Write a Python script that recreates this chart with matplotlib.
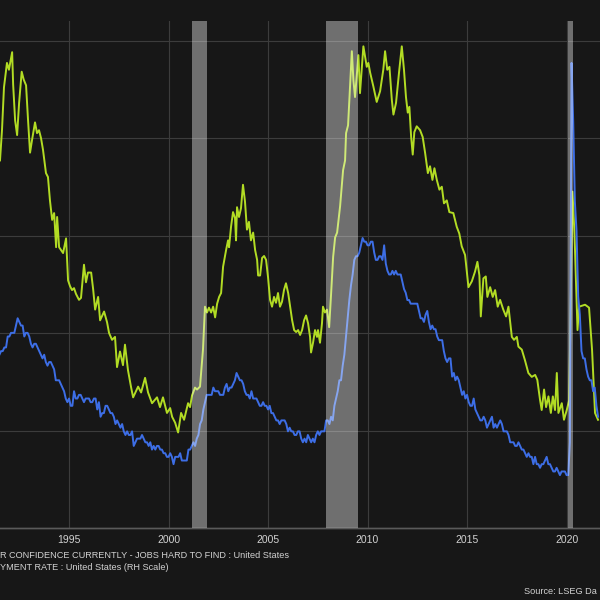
import matplotlib
matplotlib.use("Agg")
import matplotlib.pyplot as plt
import numpy as np

plt.rcParams['font.family'] = ['Liberation Sans', 'DejaVu Sans']

# Unemployment rate (%), monthly from Jul 1991 to Aug 2021
UNRATE_START = 1991.5
UNRATE = [
    6.8, 6.9, 6.9, 7.0, 7.0, 7.3,
    7.3, 7.4, 7.4, 7.4, 7.6, 7.8, 7.7, 7.6, 7.6, 7.3, 7.4, 7.4,
    7.3, 7.1, 7.0, 7.1, 7.1, 7.0, 6.9, 6.8, 6.7, 6.8, 6.6, 6.5,
    6.6, 6.6, 6.5, 6.4, 6.1, 6.1, 6.1, 6.0, 5.9, 5.8, 5.6, 5.5,
    5.6, 5.4, 5.4, 5.8, 5.6, 5.6, 5.7, 5.7, 5.6, 5.5, 5.6, 5.6,
    5.6, 5.5, 5.5, 5.6, 5.6, 5.3, 5.5, 5.1, 5.2, 5.2, 5.4, 5.4,
    5.3, 5.2, 5.2, 5.1, 4.9, 5.0, 4.9, 4.8, 4.9, 4.7, 4.6, 4.7,
    4.6, 4.6, 4.7, 4.3, 4.4, 4.5, 4.5, 4.5, 4.6, 4.5, 4.4, 4.4,
    4.3, 4.4, 4.2, 4.3, 4.2, 4.3, 4.3, 4.2, 4.2, 4.1, 4.1, 4.0,
    4.0, 4.1, 4.0, 3.8, 4.0, 4.0, 4.0, 4.1, 3.9, 3.9, 3.9, 3.9,
    4.2, 4.2, 4.3, 4.4, 4.3, 4.5, 4.6, 4.9, 5.0, 5.3, 5.5, 5.7,
    5.7, 5.7, 5.7, 5.9, 5.8, 5.8, 5.8, 5.7, 5.7, 5.7, 5.9, 6.0,
    5.8, 5.9, 5.9, 6.0, 6.1, 6.3, 6.2, 6.1, 6.1, 6.0, 5.8, 5.7,
    5.7, 5.6, 5.8, 5.6, 5.6, 5.6, 5.5, 5.4, 5.4, 5.5, 5.4, 5.4,
    5.3, 5.4, 5.2, 5.2, 5.1, 5.0, 5.0, 4.9, 5.0, 5.0, 5.0, 4.9,
    4.7, 4.8, 4.7, 4.7, 4.6, 4.6, 4.7, 4.7, 4.5, 4.4, 4.5, 4.4,
    4.6, 4.5, 4.4, 4.5, 4.4, 4.6, 4.7, 4.6, 4.7, 4.7, 4.7, 5.0,
    5.0, 4.9, 5.1, 5.0, 5.4, 5.6, 5.8, 6.1, 6.1, 6.5, 6.8, 7.3,
    7.8, 8.3, 8.7, 9.0, 9.4, 9.5, 9.5, 9.6, 9.8, 10.0, 9.9, 9.9,
    9.8, 9.8, 9.9, 9.9, 9.6, 9.4, 9.4, 9.5, 9.5, 9.4, 9.8, 9.3,
    9.1, 9.0, 9.0, 9.1, 9.0, 9.1, 9.0, 9.0, 9.0, 8.8, 8.6, 8.5,
    8.3, 8.3, 8.2, 8.2, 8.2, 8.2, 8.2, 8.0, 7.8, 7.8, 7.7, 7.9,
    8.0, 7.7, 7.5, 7.6, 7.5, 7.5, 7.3, 7.2, 7.2, 7.2, 6.9, 6.7,
    6.6, 6.7, 6.7, 6.2, 6.3, 6.1, 6.2, 6.1, 5.9, 5.7, 5.8, 5.6,
    5.7, 5.5, 5.4, 5.4, 5.6, 5.3, 5.2, 5.1, 5.0, 5.0, 5.1, 5.0,
    4.8, 4.9, 5.0, 5.1, 4.8, 4.9, 4.8, 4.9, 5.0, 4.9, 4.7, 4.7,
    4.7, 4.6, 4.4, 4.4, 4.4, 4.3, 4.3, 4.4, 4.3, 4.2, 4.2, 4.1,
    4.0, 4.1, 4.0, 4.0, 3.8, 4.0, 3.8, 3.8, 3.7, 3.8, 3.8, 3.9,
    4.0, 3.8, 3.8, 3.7, 3.6, 3.6, 3.7, 3.6, 3.5, 3.6, 3.6, 3.6,
    3.5, 3.5, 4.4, 14.8, 13.2, 11.0, 10.2, 8.4, 7.9, 6.9, 6.7, 6.7,
    6.4, 6.2, 6.1, 6.1, 5.8, 5.9, 5.4, 5.1,
]

# Consumer confidence - jobs hard to find (%)
JOBS_YEARS = [
    1991.53, 1991.63, 1991.73, 1991.88, 1991.98, 1992.14, 1992.19, 1992.29, 1992.39, 1992.49,
    1992.62, 1992.72, 1992.84, 1992.94, 1993.04, 1993.14, 1993.29, 1993.39, 1993.49, 1993.59,
    1993.69, 1993.84, 1993.94, 1994.04, 1994.15, 1994.25, 1994.35, 1994.40, 1994.50, 1994.70,
    1994.85, 1994.95, 1995.05, 1995.15, 1995.25, 1995.35, 1995.50, 1995.60, 1995.75, 1995.85,
    1995.95, 1996.11, 1996.21, 1996.31, 1996.46, 1996.56, 1996.76, 1996.91, 1997.01, 1997.16,
    1997.31, 1997.41, 1997.56, 1997.71, 1997.81, 1997.96, 1998.12, 1998.22, 1998.47, 1998.62,
    1998.82, 1998.97, 1999.17, 1999.42, 1999.57, 1999.72, 1999.92, 2000.08, 2000.18, 2000.33,
    2000.48, 2000.63, 2000.78, 2000.98, 2001.08, 2001.18, 2001.33, 2001.43, 2001.58, 2001.73,
    2001.83, 2001.93, 2002.03, 2002.14, 2002.24, 2002.34, 2002.44, 2002.54, 2002.64, 2002.74,
    2002.89, 2002.99, 2003.04, 2003.14, 2003.24, 2003.34, 2003.39, 2003.44, 2003.54, 2003.64,
    2003.74, 2003.84, 2003.94, 2004.04, 2004.14, 2004.25, 2004.35, 2004.45, 2004.50, 2004.60,
    2004.70, 2004.80, 2004.90, 2005.00, 2005.10, 2005.20, 2005.30, 2005.40, 2005.50, 2005.60,
    2005.70, 2005.80, 2005.90, 2006.01, 2006.11, 2006.21, 2006.31, 2006.41, 2006.51, 2006.61,
    2006.71, 2006.81, 2006.91, 2007.01, 2007.11, 2007.16, 2007.26, 2007.36, 2007.46, 2007.51,
    2007.61, 2007.71, 2007.76, 2007.86, 2007.96, 2008.07, 2008.17, 2008.27, 2008.37, 2008.47,
    2008.62, 2008.77, 2008.87, 2008.92, 2009.02, 2009.12, 2009.21, 2009.29, 2009.37, 2009.54,
    2009.62, 2009.79, 2009.96, 2010.04, 2010.13, 2010.29, 2010.46, 2010.63, 2010.79, 2010.88,
    2010.99, 2011.10, 2011.22, 2011.30, 2011.43, 2011.58, 2011.72, 2011.83, 2011.93, 2012.02,
    2012.10, 2012.19, 2012.27, 2012.35, 2012.47, 2012.64, 2012.77, 2012.89, 2013.03, 2013.14,
    2013.26, 2013.36, 2013.48, 2013.61, 2013.73, 2013.84, 2013.98, 2014.11, 2014.31, 2014.48,
    2014.61, 2014.73, 2014.90, 2015.07, 2015.24, 2015.40, 2015.52, 2015.62, 2015.69, 2015.82,
    2015.94, 2016.02, 2016.16, 2016.29, 2016.41, 2016.54, 2016.66, 2016.82, 2016.96, 2017.08,
    2017.25, 2017.36, 2017.50, 2017.58, 2017.75, 2017.91, 2018.08, 2018.25, 2018.42, 2018.53,
    2018.67, 2018.75, 2018.87, 2018.97, 2019.09, 2019.21, 2019.31, 2019.42, 2019.51, 2019.59,
    2019.76, 2019.87, 2020.01, 2020.13, 2020.30, 2020.40, 2020.55, 2020.63, 2020.93, 2021.13,
    2021.28, 2021.43, 2021.58,
]
JOBS_HARD = [
    37.7, 40.8, 45.2, 47.7, 47.0, 48.8, 45.5, 41.8, 40.3, 43.6,
    46.8, 46.0, 45.4, 41.8, 38.5, 39.8, 41.6, 40.5, 40.8, 40.0,
    38.8, 36.4, 36.0, 33.6, 31.6, 32.3, 28.8, 31.9, 28.8, 28.2,
    29.7, 25.4, 24.8, 24.4, 24.6, 24.0, 23.4, 23.6, 27.0, 25.2,
    26.2, 26.2, 24.5, 22.4, 23.7, 21.3, 22.2, 21.1, 20.0, 19.3,
    19.6, 16.5, 18.1, 16.7, 18.8, 16.2, 14.4, 13.4, 14.5, 13.9,
    15.4, 13.9, 12.8, 13.4, 12.4, 13.4, 11.8, 12.3, 11.4, 10.8,
    9.8, 11.8, 11.1, 12.8, 12.4, 13.6, 14.4, 14.2, 14.5, 18.3,
    22.7, 22.1, 22.6, 22.1, 22.7, 21.6, 23.0, 23.7, 24.1, 26.8,
    28.5, 29.5, 28.8, 30.9, 32.4, 31.8, 29.5, 32.9, 31.9, 32.8,
    35.2, 33.5, 30.6, 31.4, 29.5, 30.3, 28.5, 27.5, 25.9, 25.9,
    27.7, 27.9, 27.5, 25.7, 23.4, 22.7, 23.7, 23.1, 24.1, 22.7,
    23.2, 24.4, 25.1, 24.1, 22.7, 21.3, 20.3, 20.1, 20.3, 19.8,
    20.3, 21.3, 21.8, 21.0, 19.6, 18.0, 19.0, 20.3, 19.6, 20.3,
    19.0, 21.0, 22.7, 22.1, 22.4, 20.6, 24.1, 27.8, 29.8, 30.3,
    33.0, 36.7, 37.7, 40.5, 41.3, 45.2, 48.9, 45.9, 44.2, 48.5,
    44.6, 49.4, 47.3, 47.7, 46.7, 45.3, 43.7, 44.8, 47.0, 48.9,
    47.0, 47.3, 43.9, 42.4, 43.6, 46.7, 49.4, 47.0, 44.2, 42.6,
    43.2, 40.1, 38.3, 40.6, 41.2, 40.8, 40.1, 38.5, 36.4, 37.1,
    35.7, 36.9, 35.7, 34.7, 35.0, 33.3, 33.6, 32.4, 32.3, 30.9,
    30.2, 28.9, 28.0, 24.7, 25.3, 26.3, 27.3, 25.9, 21.7, 25.6,
    25.8, 23.7, 24.7, 23.7, 24.4, 22.7, 23.4, 22.4, 21.7, 22.7,
    19.6, 19.3, 19.6, 18.6, 18.3, 17.2, 15.9, 15.5, 15.7, 15.2,
    13.1, 12.1, 14.2, 12.4, 13.5, 11.8, 13.5, 12.1, 15.9, 11.8,
    12.8, 11.1, 12.1, 13.1, 34.5, 30.0, 20.3, 22.7, 22.9, 22.6,
    18.3, 11.8, 11.1,
]

# US recessions (start, end) in decimal years
RECESSIONS = [(2001.167, 2001.917), (2007.917, 2009.5), (2020.083, 2020.333)]

XTICKS = [1995, 2000, 2005, 2010, 2015, 2020]
LEFT_GRID = [10, 20, 30, 40, 50]

LEGEND_1 = "R CONFIDENCE CURRENTLY - JOBS HARD TO FIND : United States"
LEGEND_2 = "YMENT RATE : United States (RH Scale)"
SOURCE = "Source: LSEG Da"

BG = "#171717"
GREEN = "#b2dc24"
BLUE = "#3d6ee6"
GRID = "#3c3c3c"
TXT = "#d2d2d2"

fig = plt.figure(figsize=(6, 6), dpi=100, facecolor=BG)
ax = fig.add_axes([0.0, 0.12, 1.0, 0.845])
ax.set_facecolor(BG)
ax2 = ax.twinx()

un_years = UNRATE_START + np.arange(len(UNRATE)) / 12.0

ax.plot(JOBS_YEARS, JOBS_HARD, color=GREEN, lw=1.4, zorder=3)
ax2.plot(un_years, UNRATE, color=BLUE, lw=1.4, zorder=3)

ax.set_xlim(1991.53, 2021.68)
ax.set_ylim(0, 52)
ax2.set_ylim(2.05, 15.95)

for s, e in RECESSIONS:
    ax2.axvspan(s, e, color="#ffffff", alpha=0.38, lw=0, zorder=5)

ax.set_xticks(XTICKS)
ax.set_xticklabels([str(t) for t in XTICKS])
ax.set_yticks(LEFT_GRID)
ax.grid(True, color=GRID, lw=0.8)
ax.set_axisbelow(True)
ax.tick_params(axis="x", length=0, colors=TXT, labelsize=7.5, pad=5)
ax.tick_params(axis="y", length=0, labelleft=False)
ax2.tick_params(axis="y", length=0, labelright=False)
for a in (ax, ax2):
    for side in ("top", "left", "right"):
        a.spines[side].set_visible(False)
    a.spines["bottom"].set_color("#5a5a5a")
    a.spines["bottom"].set_linewidth(1.0)

fig.text(0.0, 1 - 556 / 600, LEGEND_1, color=TXT, fontsize=6.6, ha="left", va="center")
fig.text(0.0, 1 - 568 / 600, LEGEND_2, color=TXT, fontsize=6.6, ha="left", va="center")
fig.text(597 / 600, 1 - 592 / 600, SOURCE, color=TXT, fontsize=6.6, ha="right", va="center")

fig.savefig("out.png", dpi=100, facecolor=BG)
